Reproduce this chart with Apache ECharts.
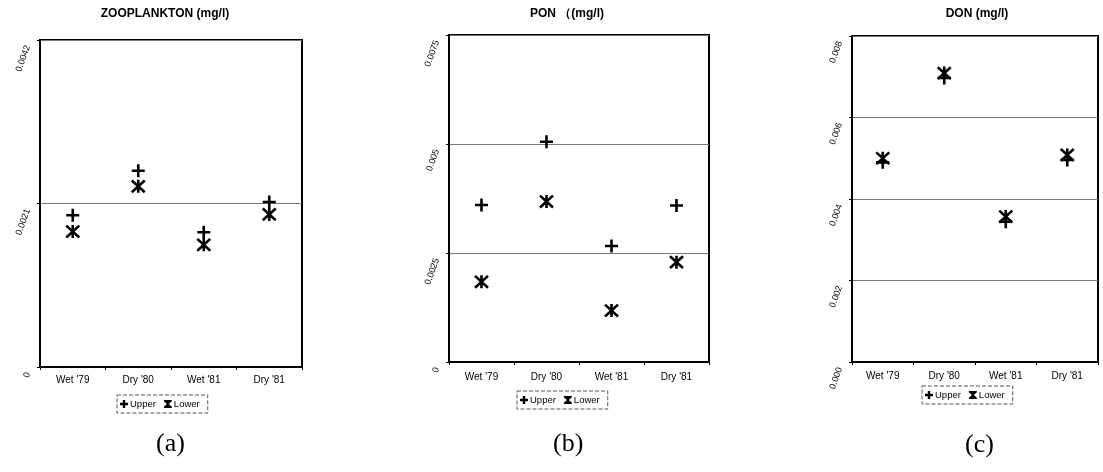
<!DOCTYPE html>
<html>
<head>
<meta charset="utf-8">
<script src="https://cdn.jsdelivr.net/npm/echarts@6/dist/echarts.min.js"></script>
<style>
html,body{margin:0;padding:0;background:#fff;}
#chart{width:1103px;height:472px;}
</style>
</head>
<body>
<div id="chart"></div>
<script>
var categories = ["Wet '79", "Dry '80", "Wet '81", "Dry '81"];
var seriesNames = ['Upper', 'Lower'];
var titles = ['ZOOPLANKTON (mg/l)', 'PON （(mg/l)', 'DON (mg/l)'];
var panelLabels = ['(a)', '(b)', '(c)'];

var zooUpper = [0.00195, 0.00252, 0.00173, 0.00212];
var zooLower = [0.00174, 0.00232, 0.00157, 0.00196];
var ponUpper = [0.00360, 0.00505, 0.00266, 0.00359];
var ponLower = [0.00184, 0.00368, 0.00118, 0.00229];
var donUpper = [0.00490, 0.00697, 0.00344, 0.00496];
var donLower = [0.00500, 0.00709, 0.00357, 0.00508];

var zooTicks = ['0', '0.0021', '0.0042'];
var ponTicks = ['0', '0.0025', '0.005', '0.0075'];
var donTicks = ['0.000', '0.002', '0.004', '0.006', '0.008'];
var yMax = [0.0042, 0.0075, 0.008];
var yStep = [0.0021, 0.0025, 0.002];

var FONT = '"Liberation Sans", Arial, sans-serif';
var PLUS = 'path://M5,0 L5,10 M0,5 L10,5';
var STAR = 'path://M0,0 L10,10 M10,0 L0,10 M5,-0.5 L5,10.5';
var PLUS_ICON = 'path://M3.5,0 H6.5 V3.5 H10 V6.5 H6.5 V10 H3.5 V6.5 H0 V3.5 H3.5 Z';
var HOUR_ICON = 'path://M0,0 H10 V1.6 L6.2,5 L10,8.4 V10 H0 V8.4 L3.8,5 L0,1.6 Z';

var grids = [
  {left: 40, top: 40, width: 262, height: 327},
  {left: 449, top: 35, width: 260, height: 327},
  {left: 852, top: 36, width: 246, height: 326}
];
var titlePos = [{x: 165, y: 8}, {x: 567, y: 8}, {x: 977, y: 8}];
var legendPos = [{x: 117, y: 395}, {x: 517, y: 391}, {x: 922, y: 386}];
var labelPos = [{x: 173, y: 446}, {x: 570, y: 446}, {x: 982, y: 447}];
var xMargins = [8, 10, 9];
var tickSets = [zooTicks, ponTicks, donTicks];
var upperSets = [zooUpper, ponUpper, donUpper];
var lowerSets = [zooLower, ponLower, donLower];

var option = {
  backgroundColor: '#fff',
  animation: false,
  title: [], legend: [], grid: [], xAxis: [], yAxis: [], series: [], graphic: []
};

for (var i = 0; i < 3; i++) {
  (function (i) {
    option.grid.push({
      left: grids[i].left, top: grids[i].top, width: grids[i].width, height: grids[i].height,
      show: true, borderColor: '#000', borderWidth: 2, backgroundColor: 'transparent'
    });
    option.title.push({
      text: titles[i], left: titlePos[i].x, top: titlePos[i].y, textAlign: 'center', padding: 0,
      textStyle: {fontFamily: FONT, fontSize: 12, fontWeight: 'bold', color: '#000'}
    });
    option.xAxis.push({
      type: 'category', gridIndex: i, data: categories, boundaryGap: true,
      axisLine: {show: true, lineStyle: {color: '#000', width: 2}},
      axisTick: {show: true, length: 3, lineStyle: {color: '#000'}},
      axisLabel: {color: '#000', fontFamily: FONT, fontSize: 10, margin: xMargins[i], interval: 0},
      splitLine: {show: false}
    });
    option.yAxis.push({
      type: 'value', gridIndex: i, min: 0, max: yMax[i], interval: yStep[i],
      axisLine: {show: true, lineStyle: {color: '#000', width: 2}},
      axisTick: {show: true, length: 3, lineStyle: {color: '#000'}},
      axisLabel: {
        color: '#000', fontFamily: FONT, fontSize: 9, rotate: 70, margin: 10,
        padding: [0, 6, 0, 0],
        formatter: (function (ticks) { return function (v, idx) { return ticks[idx]; }; })(tickSets[i])
      },
      splitLine: {show: true, lineStyle: {color: '#777', width: 1}}
    });
    option.series.push({
      name: seriesNames[0], type: 'scatter', xAxisIndex: i, yAxisIndex: i,
      data: upperSets[i], symbol: PLUS, symbolSize: 13,
      itemStyle: {color: 'rgba(0,0,0,0)', borderColor: '#000', borderWidth: 2.6, opacity: 1},
      z: 3
    });
    option.series.push({
      name: seriesNames[1], type: 'scatter', xAxisIndex: i, yAxisIndex: i,
      data: lowerSets[i], symbol: STAR, symbolSize: 13,
      itemStyle: {color: 'rgba(0,0,0,0)', borderColor: '#000', borderWidth: 2.6, opacity: 1},
      z: 4
    });
    option.legend.push({
      left: legendPos[i].x, top: legendPos[i].y, orient: 'horizontal',
      padding: [4, 8, 4, 3], itemGap: 8, itemWidth: 8, itemHeight: 8,
      borderColor: '#555', borderWidth: 1, borderType: 'dashed',
      selectedMode: false,
      textStyle: {fontFamily: FONT, fontSize: 9.5, color: '#000', padding: [0, 0, 0, -3]},
      data: [
        {name: seriesNames[0], icon: PLUS_ICON, itemStyle: {color: '#000', borderWidth: 0}},
        {name: seriesNames[1], icon: HOUR_ICON, itemStyle: {color: '#000', borderWidth: 0}}
      ]
    });
    option.graphic.push({
      type: 'text', left: labelPos[i].x - 17, top: labelPos[i].y - 15,
      style: {text: panelLabels[i], font: '26px "Liberation Serif", "Times New Roman", serif', fill: '#000'}
    });
  })(i);
}

var chart = echarts.init(document.getElementById('chart'), null, {renderer: 'canvas'});
chart.setOption(option);
</script>
</body>
</html>
